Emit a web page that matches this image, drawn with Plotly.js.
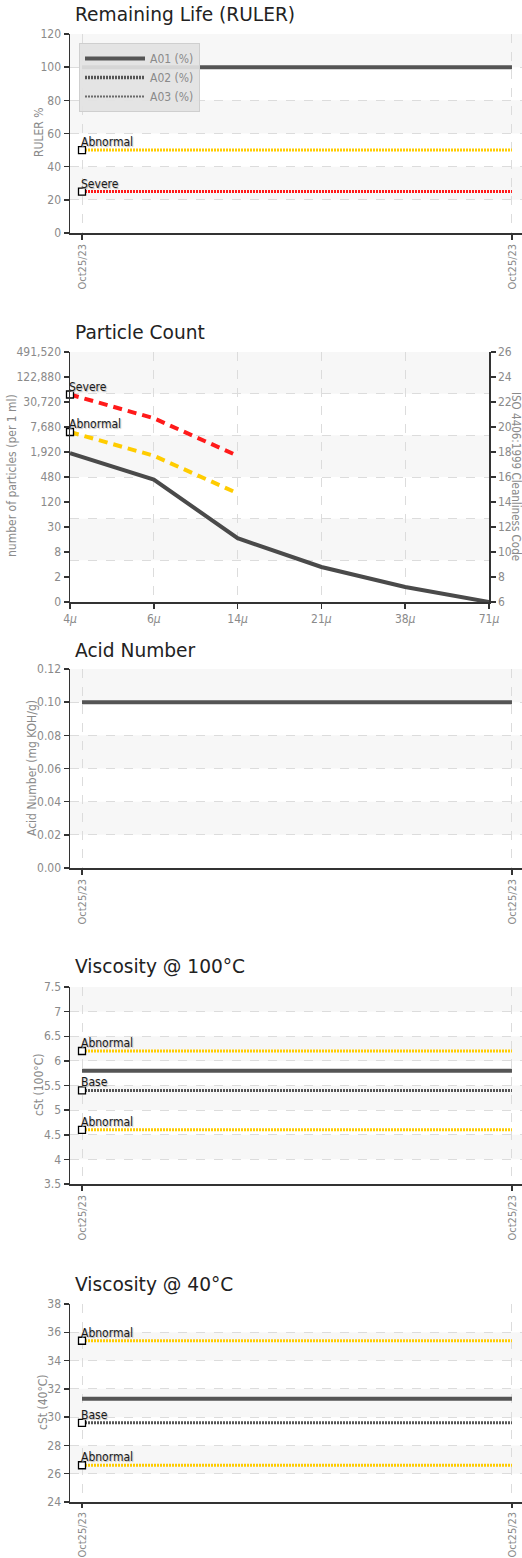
<!DOCTYPE html>
<html>
<head>
<meta charset="utf-8">
<script src="https://cdn.plot.ly/plotly-3.0.1.min.js"></script>
<style>
html, body { margin: 0; padding: 0; background: #fff; }
#chart { width: 522px; height: 1558px; }
</style>
</head>
<body>
<div id="chart"></div>
<script>
// ---------------- DATA ----------------
const dates = ['Oct25/23', 'Oct25/23'];

const rulerA01 = [100, 100];
const rulerA02 = [null, null];
const rulerA03 = [null, null];
const rulerAbnormal = [50, 50];
const rulerSevere = [25, 25];

const particleSizes = ['4<i>μ</i>', '6<i>μ</i>', '14<i>μ</i>', '21<i>μ</i>', '38<i>μ</i>', '71<i>μ</i>'];
const particleA01 = [17.9, 15.8, 11.1, 8.8, 7.2, 6.0];      // ISO 4406 code scale
const particleAbnormal = [19.6, 17.7, 14.7];
const particleSevere = [22.6, 20.7, 17.7];
const isoCodeTicks = [6, 8, 10, 12, 14, 16, 18, 20, 22, 24, 26];
const particleCountTicks = ['0', '2', '8', '30', '120', '480', '1,920', '7,680', '30,720', '122,880', '491,520'];

const acidA01 = [0.10, 0.10];

const v100A01 = [5.8, 5.8];
const v100Base = [5.4, 5.4];
const v100AbnormalHigh = [6.2, 6.2];
const v100AbnormalLow = [4.6, 4.6];

const v40A01 = [31.3, 31.3];
const v40Base = [29.6, 29.6];
const v40AbnormalHigh = [35.4, 35.4];
const v40AbnormalLow = [26.6, 26.6];

// ---------------- STYLE / LAYOUT HELPERS ----------------
const W = 522, H = 1558;
const NARROW = '"DejaVu Sans Condensed", "Liberation Sans Narrow", sans-serif';
const TITLEF = '"DejaVu Sans", Verdana, sans-serif';
const AXC = '#333', TICKC = '#8a8a8a', GRIDC = '#dcdcdc', BANDC = '#f7f7f7';
const MAIN = '#555555', YEL = '#ffcc00', RED = '#ff1a1a';
const DOT = '2px,1px';
const FS = 12;

const yd = (top, bot) => [1 - bot / H, 1 - top / H];
const xd = (l, r) => [l / W, r / W];
const py = px => 1 - px / H;
const pxx = px => px / W;

const dateX = dates.map((d, i) => i);
const sizeX = particleSizes.map((d, i) => i);

function xAxis(anchor, domain, range, tickvals, ticktext, angle, fs) {
  return {
    anchor: anchor, domain: domain, range: range,
    tickmode: 'array', tickvals: tickvals, ticktext: ticktext, tickangle: angle,
    showline: true, linecolor: AXC, linewidth: 1.5,
    ticks: 'outside', ticklen: 5, tickwidth: 1.5, tickcolor: AXC,
    tickfont: { family: NARROW, size: fs || FS, color: TICKC },
    showgrid: true, gridcolor: GRIDC, griddash: 'dash', gridwidth: 1,
    zeroline: false, fixedrange: true, automargin: false
  };
}
function yAxis(anchor, domain, range, dtick, extra) {
  return Object.assign({
    anchor: anchor, domain: domain, range: range, dtick: dtick, tick0: range[0],
    showline: true, linecolor: AXC, linewidth: 1.5,
    ticks: 'outside', ticklen: 5, tickwidth: 1.5, tickcolor: AXC,
    tickfont: { family: NARROW, size: FS, color: TICKC },
    showgrid: true, gridcolor: GRIDC, griddash: 'dash', gridwidth: 1,
    zeroline: false, fixedrange: true, automargin: false
  }, extra || {});
}

const shapes = [];
const annotations = [];
function bands(yref, lo, hi, step) {
  for (let v = lo + step; v < hi - 1e-9; v += 2 * step) {
    shapes.push({ type: 'rect', layer: 'below', xref: yref.replace('y', 'x') + ' domain', yref: yref,
      x0: 0, x1: 1, y0: v, y1: v + step, fillcolor: BANDC, line: { width: 0 } });
  }
}

const traces = [];
const LABELFONT = { family: NARROW, size: FS, color: '#1a1a1a', shadow: '1px 1px 1px #b8b8b8' };
const MARK = { symbol: 'square', size: 7, color: '#fff', line: { color: '#000', width: 1.3 } };

function mainLine(xa, ya, xs, ys, name, showlegend) {
  traces.push({ type: 'scatter', mode: 'lines', x: xs, y: ys, xaxis: xa, yaxis: ya,
    name: name, showlegend: !!showlegend, line: { color: MAIN, width: 4 }, hoverinfo: 'skip' });
}
function startLabel(xa, ya, x, y, label) {
  traces.push({ type: 'scatter', mode: 'markers', x: [x], y: [y], xaxis: xa, yaxis: ya,
    showlegend: false, cliponaxis: false, marker: MARK, hoverinfo: 'skip' });
  annotations.push({ text: label, xref: xa, yref: ya, x: x, y: y, xanchor: 'left', yanchor: 'bottom',
    xshift: -3, yshift: -1, showarrow: false, font: LABELFONT });
}
function limitLine(xa, ya, xs, ys, label, color, dash, width) {
  traces.push({ type: 'scatter', mode: 'lines', x: xs, y: ys, xaxis: xa, yaxis: ya,
    showlegend: false, line: { color: color, width: width, dash: dash }, hoverinfo: 'skip' });
  startLabel(xa, ya, xs[0], ys[0], label);
}

// ---------------- CHART 1: RULER ----------------
const dRange = [-0.0279, 1.0233];
limitLine('x', 'y', dateX, rulerAbnormal, 'Abnormal', YEL, DOT, 3);
limitLine('x', 'y', dateX, rulerSevere, 'Severe', RED, DOT, 3);
mainLine('x', 'y', dateX, rulerA01, 'A01 (%)', true);
traces.push({ type: 'scatter', mode: 'lines', x: dateX, y: rulerA02, xaxis: 'x', yaxis: 'y',
  name: 'A02 (%)', showlegend: true, line: { color: MAIN, width: 3.5, dash: DOT }, hoverinfo: 'skip' });
traces.push({ type: 'scatter', mode: 'lines', x: dateX, y: rulerA03, xaxis: 'x', yaxis: 'y',
  name: 'A03 (%)', showlegend: true, line: { color: '#6a6a6a', width: 2, dash: DOT }, hoverinfo: 'skip' });
bands('y', 0, 120, 20);

// ---------------- CHART 2: PARTICLE COUNT ----------------
traces.push({ type: 'scatter', mode: 'lines', x: sizeX.slice(0, particleSevere.length), y: particleSevere,
  xaxis: 'x2', yaxis: 'y2', showlegend: false, line: { color: RED, width: 4, dash: '9px,6px' }, hoverinfo: 'skip' });
traces.push({ type: 'scatter', mode: 'lines', x: sizeX.slice(0, particleAbnormal.length), y: particleAbnormal,
  xaxis: 'x2', yaxis: 'y2', showlegend: false, line: { color: YEL, width: 4, dash: '9px,6px' }, hoverinfo: 'skip' });
startLabel('x2', 'y2', sizeX[0], particleSevere[0], 'Severe');
startLabel('x2', 'y2', sizeX[0], particleAbnormal[0], 'Abnormal');
traces.push({ type: 'scatter', mode: 'lines', x: sizeX, y: particleA01, xaxis: 'x2', yaxis: 'y6',
  showlegend: false, line: { color: '#4a4a4a', width: 4 }, cliponaxis: false, hoverinfo: 'skip' });
shapes.push(...[1, 3, 5].map(k => ({ type: 'rect', layer: 'below', xref: 'x2 domain', yref: 'y7',
  x0: 0, x1: 1, y0: k, y1: k + 1, fillcolor: BANDC, line: { width: 0 } })));

// ---------------- CHART 3: ACID NUMBER ----------------
mainLine('x3', 'y3', dateX, acidA01, 'A01', false);
bands('y3', 0, 0.12, 0.02);

// ---------------- CHART 4: VISCOSITY 100 ----------------
limitLine('x4', 'y4', dateX, v100AbnormalHigh, 'Abnormal', YEL, DOT, 3);
limitLine('x4', 'y4', dateX, v100Base, 'Base', MAIN, DOT, 3);
limitLine('x4', 'y4', dateX, v100AbnormalLow, 'Abnormal', YEL, DOT, 3);
mainLine('x4', 'y4', dateX, v100A01, 'A01', false);
bands('y4', 3.5, 7.5, 0.5);

// ---------------- CHART 5: VISCOSITY 40 ----------------
limitLine('x5', 'y5', dateX, v40AbnormalHigh, 'Abnormal', YEL, DOT, 3);
limitLine('x5', 'y5', dateX, v40Base, 'Base', MAIN, DOT, 3);
limitLine('x5', 'y5', dateX, v40AbnormalLow, 'Abnormal', YEL, DOT, 3);
mainLine('x5', 'y5', dateX, v40A01, 'A01', false);
bands('y5', 24, 38, 2);

// ---------------- AXES ----------------
const fullX = xd(70, 522);
const DFS = 11;
const x5 = xAxis('y5', fullX, dRange, dateX, dates, -90, DFS);
x5.ticklen = 4;
const layout = {
  width: W, height: H,
  margin: { l: 0, r: 0, t: 0, b: 0, pad: 0 },
  paper_bgcolor: '#fff', plot_bgcolor: '#fff',
  showlegend: true,
  legend: {
    x: pxx(79), y: py(43), xanchor: 'left', yanchor: 'top',
    bgcolor: 'rgba(226,226,226,0.92)', bordercolor: '#cfcfcf', borderwidth: 1,
    font: { family: NARROW, size: FS, color: TICKC },
    itemwidth: 60, tracegroupgap: 0, traceorder: 'normal'
  },
  xaxis: xAxis('y', fullX, dRange, dateX, dates, -90, DFS),
  yaxis: yAxis('x', yd(34, 233), [0, 120], 20),

  xaxis2: xAxis('y2', xd(70, 489), [0, 5], sizeX, particleSizes, 0),
  yaxis2: yAxis('x2', yd(352, 602), [6, 26], 2, { tickmode: 'array', tickvals: isoCodeTicks, ticktext: particleCountTicks, showgrid: false }),
  yaxis6: yAxis('x2', yd(352, 602), [6, 26], 2, { overlaying: 'y2', side: 'right', showgrid: false }),
  yaxis7: { anchor: 'x2', overlaying: 'y2', domain: yd(352, 602), range: [0, 6], dtick: 1,
    showgrid: true, gridcolor: GRIDC, griddash: 'dash', showticklabels: false, ticks: '', showline: false,
    zeroline: false, fixedrange: true },

  xaxis3: xAxis('y3', fullX, dRange, dateX, dates, -90, DFS),
  yaxis3: yAxis('x3', yd(669, 868), [0, 0.12], 0.02, { tickformat: '.2f' }),

  xaxis4: xAxis('y4', fullX, dRange, dateX, dates, -90, DFS),
  yaxis4: yAxis('x4', yd(987, 1184), [3.5, 7.5], 0.5),

  xaxis5: x5,
  yaxis5: yAxis('x5', yd(1304, 1502), [24, 38], 2),

  shapes: shapes,
  annotations: annotations
};

// chart titles
[['Remaining Life (RULER)', 15], ['Particle Count', 332], ['Acid Number', 651],
 ['Viscosity @ 100°C', 966], ['Viscosity @ 40°C', 1284]].forEach(([t, y]) => {
  annotations.push({ text: t, xref: 'paper', yref: 'paper', x: pxx(73), y: py(y),
    xanchor: 'left', yanchor: 'middle', showarrow: false,
    font: { family: TITLEF, size: 18.6, color: '#222' } });
});
// axis titles
[['RULER %', 39, 133, -90], ['number of particles (per 1 ml)', 12, 476, -90],
 ['Acid Number (mg KOH/g)', 32, 768, -90], ['cSt (100°C)', 39, 1085, -90], ['cSt (40°C)', 43, 1402, -90],
 ['ISO 4406:1999 Cleanliness Code', 516, 476, 90]].forEach(([t, x, y, a]) => {
  annotations.push({ text: t, xref: 'paper', yref: 'paper', x: pxx(x), y: py(y),
    xanchor: 'center', yanchor: 'middle', textangle: a, showarrow: false,
    font: { family: NARROW, size: a === 90 ? 11.5 : FS, color: TICKC } });
});

Plotly.newPlot('chart', traces, layout, { displayModeBar: false, staticPlot: true });
</script>
</body>
</html>
